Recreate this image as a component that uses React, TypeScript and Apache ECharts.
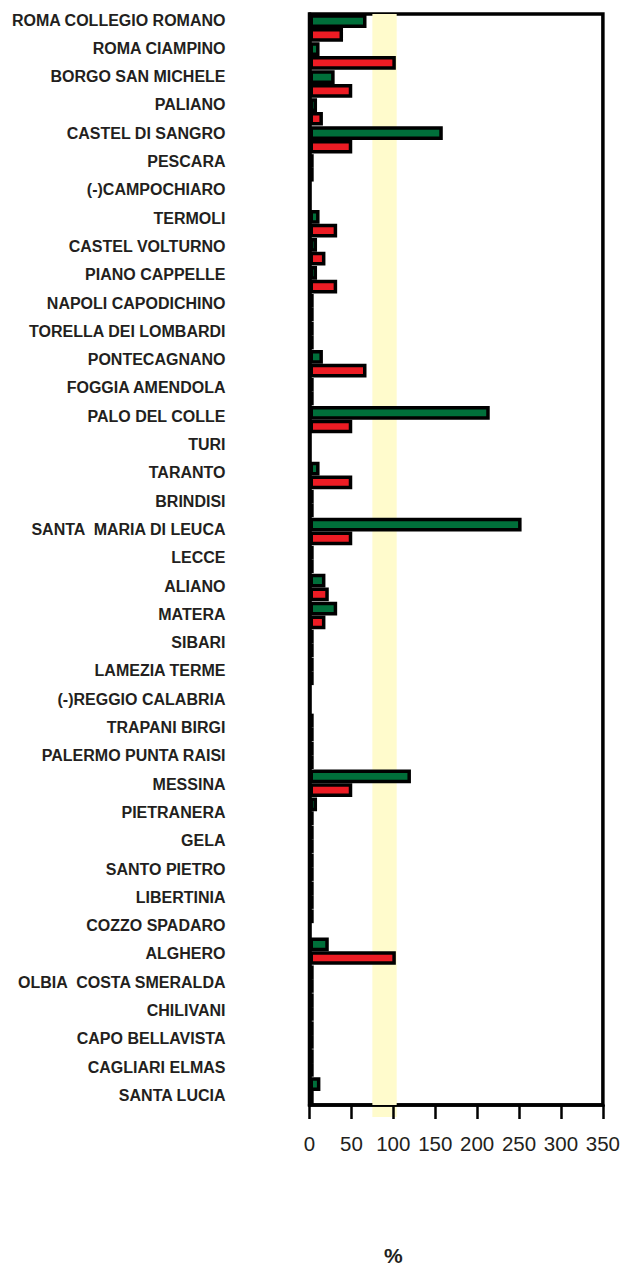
import React, { useEffect, useRef } from "react";
import * as echarts from "echarts";

const categories = [
  "ROMA COLLEGIO ROMANO",
  "ROMA CIAMPINO",
  "BORGO SAN MICHELE",
  "PALIANO",
  "CASTEL DI SANGRO",
  "PESCARA",
  "(-)CAMPOCHIARO",
  "TERMOLI",
  "CASTEL VOLTURNO",
  "PIANO CAPPELLE",
  "NAPOLI CAPODICHINO",
  "TORELLA DEI LOMBARDI",
  "PONTECAGNANO",
  "FOGGIA AMENDOLA",
  "PALO DEL COLLE",
  "TURI",
  "TARANTO",
  "BRINDISI",
  "SANTA  MARIA DI LEUCA",
  "LECCE",
  "ALIANO",
  "MATERA",
  "SIBARI",
  "LAMEZIA TERME",
  "(-)REGGIO CALABRIA",
  "TRAPANI BIRGI",
  "PALERMO PUNTA RAISI",
  "MESSINA",
  "PIETRANERA",
  "GELA",
  "SANTO PIETRO",
  "LIBERTINIA",
  "COZZO SPADARO",
  "ALGHERO",
  "OLBIA  COSTA SMERALDA",
  "CHILIVANI",
  "CAPO BELLAVISTA",
  "CAGLIARI ELMAS",
  "SANTA LUCIA",
];

const greenValues: (number | null)[] = [
  68, 12, 30, 9, 159, 5, null, 12, 9, 9, 5, 5, 16, 5, 215, null, 12, 5, 253, 5,
  19, 33, 5, 5, null, 5, 5, 121, 9, 5, 5, 5, 5, 23, 5, 5, 5, 5, 13,
];

const redValues: (number | null)[] = [
  40, 103, 51, 16, 51, 5, null, 33, 19, 33, 5, 5, 68, 5, 51, null, 51, 5, 51, 5,
  23, 19, 5, 5, null, 5, 5, 51, 5, 5, 5, 5, null, 103, 5, 5, 5, 5, 5,
];

const xTicks = { min: 0, max: 350, interval: 50 };
const band = [75, 104];
const unitLabel = "%";

const FONT = "'Liberation Sans', Arial, Helvetica, sans-serif";
const TEXT = "#231f20";
const BAND_COLOR = "#fffbcc";

export default function App() {
  const ref = useRef<HTMLDivElement>(null);
  useEffect(() => {
    document.body.style.margin = "0";
    const chart = echarts.init(ref.current!, null, { renderer: "svg" });
    const percentText = {
      type: "text",
      left: 384,
      top: 1245,
      style: {
        text: unitLabel,
        fontSize: 21,
        fontWeight: "bold",
        fill: TEXT,
        fontFamily: FONT,
      },
    };
    chart.setOption({
      animation: false,
      backgroundColor: "#ffffff",
      grid: [
        {
          left: 309.5,
          right: 18.5,
          top: 14,
          bottom: 164,
          show: true,
          borderColor: "#000",
          borderWidth: 3.5,
          backgroundColor: "transparent",
        },
        { left: 309.5, right: 18.5, top: 5.85, bottom: 159.45 },
      ],
      xAxis: [
        {
          gridIndex: 0,
          type: "value",
          min: xTicks.min,
          max: xTicks.max,
          interval: xTicks.interval,
          splitLine: { show: false },
          axisLine: { show: true, lineStyle: { color: "#000", width: 3.5 } },
          axisTick: { show: true, length: 14, lineStyle: { color: "#000", width: 2.5 } },
          axisLabel: { margin: 28, fontSize: 20.5, color: TEXT, fontFamily: FONT },
        },
        { gridIndex: 1, type: "value", show: false },
      ],
      yAxis: [
        {
          gridIndex: 0,
          type: "category",
          data: categories,
          inverse: true,
          axisLine: { show: true, lineStyle: { color: "#000", width: 3.5 } },
          axisTick: { show: false },
          axisLabel: { show: false },
          splitLine: { show: false },
        },
        {
          gridIndex: 1,
          type: "category",
          data: categories,
          inverse: true,
          axisLine: { show: false },
          axisTick: { show: false },
          splitLine: { show: false },
          axisLabel: {
            margin: 84,
            fontSize: 16,
            fontWeight: "bold",
            color: TEXT,
            fontFamily: FONT,
            interval: 0,
          },
        },
      ],
      series: [
        {
          type: "bar",
          xAxisIndex: 0,
          yAxisIndex: 0,
          data: greenValues,
          barCategoryGap: "2%",
          barGap: "0%",
          itemStyle: { color: "#006f3a", borderColor: "#000", borderWidth: 3.5 },
          markArea: {
            silent: true,
            z: 1,
            itemStyle: { color: BAND_COLOR, borderWidth: 0 },
            data: [[{ xAxis: band[0] }, { xAxis: band[1] }]],
          },
        },
        {
          type: "bar",
          xAxisIndex: 0,
          yAxisIndex: 0,
          data: redValues,
          barCategoryGap: "2%",
          barGap: "0%",
          itemStyle: { color: "#ed1c24", borderColor: "#000", borderWidth: 3.5 },
        },
      ],
      graphic: [percentText],
    });
    const x0 = chart.convertToPixel({ xAxisIndex: 0 }, band[0]) as number;
    const x1 = chart.convertToPixel({ xAxisIndex: 0 }, band[1]) as number;
    chart.setOption({
      graphic: [
        percentText,
        {
          type: "rect",
          z: -1,
          silent: true,
          shape: { x: x0, y: 1100, width: x1 - x0, height: 17 },
          style: { fill: BAND_COLOR },
        },
      ],
    });
    return () => chart.dispose();
  }, []);
  return <div ref={ref} style={{ width: 623, height: 1269 }} />;
}
